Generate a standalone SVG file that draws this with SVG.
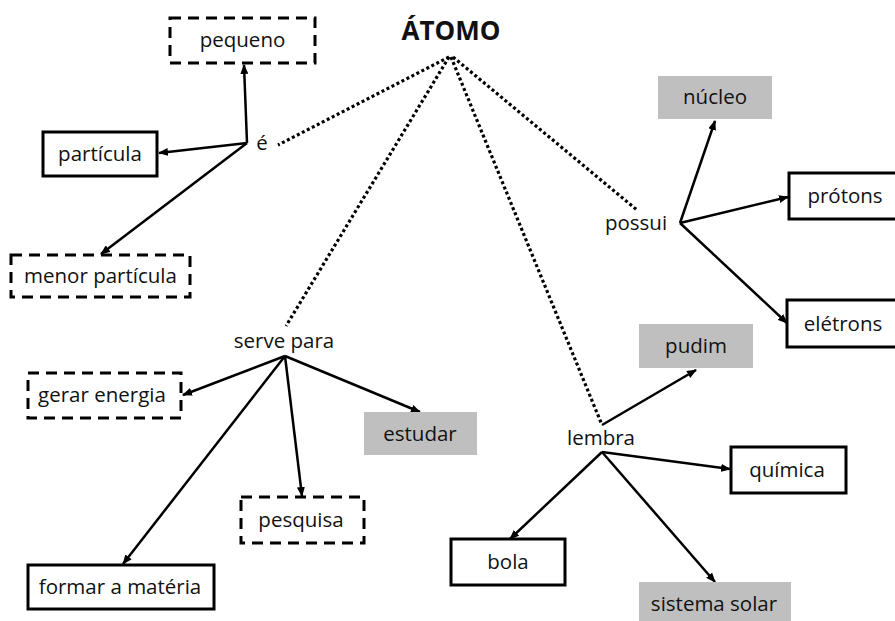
<svg xmlns="http://www.w3.org/2000/svg" width="895" height="621" viewBox="0 0 895 621">
<defs>
<marker id="arr" markerUnits="userSpaceOnUse" markerWidth="10" markerHeight="8" refX="9" refY="4" orient="auto">
<path d="M0,0 L10,4 L0,8 z" fill="#000"/>
</marker>
<style>
text{font-family:"Open Sans","DejaVu Sans",sans-serif;font-size:20.5px;fill:#111;text-anchor:middle}
.title{font-weight:bold;font-size:26px}
.solid{fill:#fff;stroke:#000;stroke-width:3}
.dash{fill:#fff;stroke:#000;stroke-width:3;stroke-dasharray:11 7}
.gray{fill:#bfbfbf;stroke:none}
.link{fill:none;stroke:#000;stroke-width:2.5;marker-end:url(#arr)}
.dot{fill:none;stroke:#000;stroke-width:3.2;stroke-dasharray:3 2.6}
</style>
</defs>
<rect width="895" height="621" fill="#fff"/>
<g id="connectors">
<line class="dot" x1="449" y1="57" x2="278" y2="145"/>
<line class="dot" x1="449" y1="57" x2="286" y2="326"/>
<line class="dot" x1="451" y1="57" x2="602" y2="425"/>
<line class="dot" x1="453" y1="57" x2="637" y2="210"/>
<line class="link" x1="247" y1="143" x2="244" y2="65"/>
<line class="link" x1="247" y1="143" x2="159" y2="153"/>
<line class="link" x1="247" y1="143" x2="101" y2="254"/>
<line class="link" x1="680" y1="223" x2="715" y2="121"/>
<line class="link" x1="680" y1="223" x2="788" y2="197"/>
<line class="link" x1="680" y1="223" x2="787" y2="323"/>
<line class="link" x1="285" y1="356" x2="183" y2="395"/>
<line class="link" x1="285" y1="356" x2="420" y2="412"/>
<line class="link" x1="285" y1="356" x2="302" y2="496"/>
<line class="link" x1="285" y1="356" x2="123" y2="564"/>
<line class="link" x1="602" y1="425" x2="696" y2="370"/>
<line class="link" x1="602" y1="452" x2="730" y2="469"/>
<line class="link" x1="602" y1="452" x2="510" y2="539"/>
<line class="link" x1="602" y1="452" x2="715" y2="582"/>
</g>
<g id="atomo"><text class="title" x="451" y="40">ÁTOMO</text></g>
<g id="e"><text x="262" y="150">é</text></g>
<g id="possui"><text x="636" y="230">possui</text></g>
<g id="serve-para"><text x="284" y="348">serve para</text></g>
<g id="lembra"><text x="601" y="445">lembra</text></g>
<g id="pequeno"><rect class="dash" x="170" y="18" width="145" height="45"/><text x="242.5" y="47">pequeno</text></g>
<g id="particula"><rect class="solid" x="43" y="132" width="114" height="44"/><text x="100" y="161">partícula</text></g>
<g id="menor-particula"><rect class="dash" x="11" y="255" width="179" height="42"/><text x="100.5" y="283">menor partícula</text></g>
<g id="nucleo"><rect class="gray" x="658" y="76" width="114" height="43"/><text x="715" y="104">núcleo</text></g>
<g id="protons"><rect class="solid" x="789" y="173" width="115" height="46"/><text x="845" y="203">prótons</text></g>
<g id="eletrons"><rect class="solid" x="787" y="300" width="117" height="47"/><text x="843" y="331">elétrons</text></g>
<g id="pudim"><rect class="gray" x="639" y="324" width="114" height="44"/><text x="696" y="353">pudim</text></g>
<g id="gerar-energia"><rect class="dash" x="28" y="373" width="153" height="45"/><text x="102" y="402">gerar energia</text></g>
<g id="estudar"><rect class="gray" x="364" y="412" width="113" height="43"/><text x="420" y="441">estudar</text></g>
<g id="pesquisa"><rect class="dash" x="241" y="497" width="123" height="46"/><text x="301" y="527">pesquisa</text></g>
<g id="formar-materia"><rect class="solid" x="28" y="565" width="186" height="44"/><text x="120" y="594">formar a matéria</text></g>
<g id="quimica"><rect class="solid" x="731" y="447" width="115" height="46"/><text x="787" y="477">química</text></g>
<g id="bola"><rect class="solid" x="451" y="539" width="114" height="46"/><text x="508" y="569">bola</text></g>
<g id="sistema-solar"><rect class="gray" x="639" y="582" width="152" height="45"/><text x="714" y="611">sistema solar</text></g>
</svg>
